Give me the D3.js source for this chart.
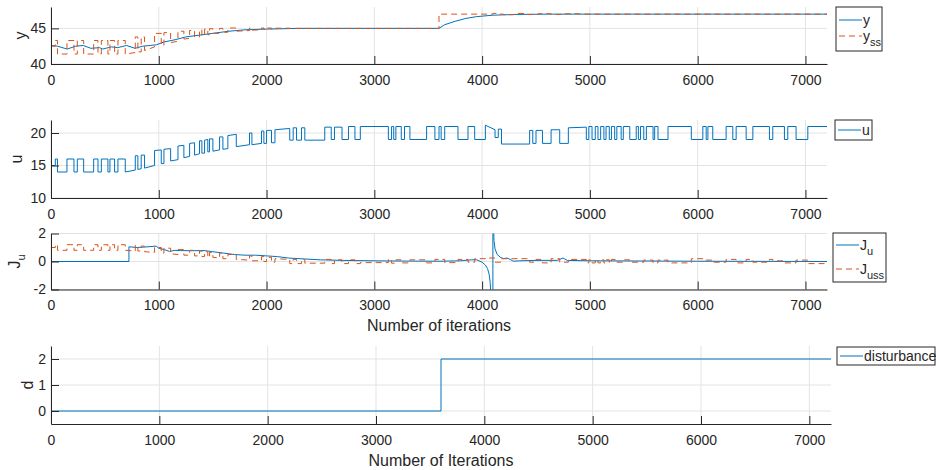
<!DOCTYPE html>
<html>
<head>
<meta charset="utf-8">
<script src="https://cdn.jsdelivr.net/npm/d3@7"></script>
<style>
  body { margin: 0; background: #fff; }
  text { font-family: "Liberation Sans", Arial, sans-serif; fill: #262626; }
</style>
</head>
<body>
<div id="chart"></div>
<script>
// ---- data ----
const xTicks = [0, 1000, 2000, 3000, 4000, 5000, 6000, 7000];

// y (output) – polyline
const yPoints = [[0,42.6],[60,42.5],[150,42.1],[230,42.5],[300,42.6],[370,42.2],[450,42.3],[480,42.1],[560,42.4],[620,42.3],[700,42.6],[780,42.2],[850,42.5],[920,42.6],[980,42.7],[1050,43.1],[1150,43.4],[1250,43.8],[1400,44.1],[1500,44.3],[1650,44.6],[1800,44.8],[2000,44.9],[2300,45],[3600,45],[3650,45.5],[3750,46.0],[3850,46.4],[3950,46.65],[4100,46.85],[4300,46.95],[4600,47],[7200,47]];

// y_ss – segments [x0, x1, v0, v1]
const yssSegs = [[0,40,42.5],[40,60,43.3],[60,148,41.4],[148,213,43.3],[213,244,41.4],[244,303,43.3],[303,396,41.4],[396,436,43.3],[436,467,41.4],[467,528,43.3],[528,547,41.4],[547,590,43.3],[590,621,41.4],[621,689,43.3],[689,782,41.4,41.6],[782,806,43.8],[806,837,41.7],[837,868,43.8],[868,961,41.9,42.4],[961,1023,44.3],[1023,1048,42.6],[1048,1110,44.4],[1110,1178,43.0,43.2],[1178,1233,44.6],[1233,1286,43.5,43.6],[1286,1332,44.7],[1332,1378,43.8],[1378,1400,44.8],[1400,1425,44.0],[1425,1455,44.9],[1455,1471,44.1],[1471,1502,44.95],[1502,1564,44.3],[1564,1595,45.0],[1595,1641,44.45],[1641,1719,45.05],[1719,1842,44.6,44.7],[1842,1864,45.05],[1864,1953,44.75,44.8],[1953,1975,45.05],[1975,2000,44.85],[2000,2046,45.05],[2046,2078,44.9],[2078,2215,45.02],[2215,3600,45],[3600,4100,47],[4100,4150,47.1],[4150,4200,47],[4200,4300,46.92],[4300,4420,47.08],[4420,4520,46.95],[4520,4640,47.06],[4640,4750,46.95],[4750,4900,47.05],[4900,7200,47]];

// u (input) – segments [x0, x1, v0, v1]
const uSegs = [[0,40,15],[40,60,16],[60,148,14],[148,213,16],[213,244,14],[244,303,16],[303,396,14],[396,436,16],[436,467,14],[467,528,16],[528,547,14],[547,590,16],[590,621,14],[621,689,16],[689,782,14,14.3],[782,806,16.5],[806,837,14.4,14.5],[837,868,16.6],[868,961,14.6,15.0],[961,1023,17.3,17.4],[1023,1048,15.3],[1048,1110,17.5,17.6],[1110,1178,15.7,15.9],[1178,1233,18.0,18.1],[1233,1286,16.2,16.4],[1286,1332,18.4,18.5],[1332,1378,16.6,16.8],[1378,1400,18.8],[1400,1425,16.9],[1425,1455,18.9,19.0],[1455,1471,17.1],[1471,1502,19.1],[1502,1564,17.2,17.4],[1564,1595,19.4],[1595,1641,17.5,17.6],[1641,1719,19.6,19.8],[1719,1842,17.9,18.2],[1842,1864,20.0],[1864,1953,18.2,18.4],[1953,1975,20.3],[1975,2000,18.4],[2000,2046,20.4],[2046,2078,18.5],[2078,2215,20.5,20.7],[2215,2247,18.9],[2247,2278,20.8],[2278,2324,18.9],[2324,2355,20.8],[2355,2540,18.9],[2540,2600,20.9],[2600,2630,19],[2630,2700,20.9],[2700,2760,19],[2760,2820,21],[2820,2870,19],[2870,3130,21],[3130,3160,19],[3160,3180,21],[3180,3200,19],[3200,3250,21],[3250,3280,19],[3280,3330,21],[3330,3485,19],[3485,3562,21],[3562,3600,19],[3600,3620,21],[3620,3653,19],[3653,3776,21],[3776,3869,19],[3869,3931,21],[3931,4030,19],[4030,4120,21.2,20.5],[4120,4150,19.3],[4150,4180,20.6],[4180,4441,18.3],[4441,4470,20.4],[4470,4500,18.4],[4500,4560,20.4],[4560,4640,18.4],[4640,4720,20.5],[4720,4800,18.4],[4800,4967,20.8,20.9],[4967,4990,19],[4990,5020,21],[5020,5050,19],[5050,5075,21],[5075,5100,19],[5100,5130,21],[5130,5150,19],[5150,5180,21],[5180,5200,19],[5200,5230,21],[5230,5250,19],[5250,5290,21],[5290,5310,19],[5310,5370,21],[5370,5430,19],[5430,5450,21],[5450,5470,19],[5470,5500,21],[5500,5524,19],[5524,5586,21],[5586,5601,19],[5601,5632,21],[5632,5725,19],[5725,5941,21],[5941,6048,19],[6048,6079,21],[6079,6095,19],[6095,6140,21],[6140,6264,19],[6264,6326,21],[6326,6357,19],[6357,6450,21],[6450,6512,19],[6512,6666,21],[6666,6697,19],[6697,6805,21],[6805,6836,19],[6836,6913,21],[6913,7022,19],[7022,7200,21]];

// J_u (gradient estimate) – polyline
const juPoints = [[0,0],[723,0],[723,1.05],[800,1.0],[900,1.05],[975,1.1],[1000,0.95],[1050,0.85],[1100,0.72],[1150,0.8],[1200,0.78],[1300,0.77],[1420,0.78],[1500,0.7],[1600,0.6],[1700,0.5],[1800,0.45],[1900,0.45],[2000,0.4],[2100,0.35],[2200,0.25],[2350,0.18],[2500,0.12],[2700,0.08],[3000,0.05],[3300,0.03],[3600,0.02],[3800,0.05],[3900,0.12],[3950,0.12],[4000,-0.05],[4030,-0.25],[4050,-0.5],[4065,-0.9],[4075,-1.5],[4085,-3],[4100,-3],[4100,3],[4105,3],[4110,1.5],[4120,0.9],[4140,0.5],[4170,0.3],[4200,0.2],[4230,0.25],[4260,0.15],[4290,0.02],[4350,0.05],[4500,0.08],[4700,0.08],[4750,0.25],[4790,0.08],[5000,0.05],[6000,0.02],[7200,0.0]];

// J_uss – segments [x0, x1, v0, v1]
const jussSegs = [[0,40,1.0],[40,60,1.2],[60,148,0.8],[148,213,1.2],[213,244,0.8],[244,303,1.2],[303,396,0.8],[396,436,1.2],[436,467,0.8],[467,528,1.2],[528,547,0.8],[547,590,1.2],[590,621,0.8],[621,689,1.2],[689,782,0.8,0.75],[782,806,1.15],[806,837,0.75],[837,868,1.1],[868,961,0.7,0.65],[961,1023,1.0],[1023,1048,0.6],[1048,1110,0.95],[1110,1178,0.55,0.5],[1178,1233,0.85],[1233,1286,0.45],[1286,1332,0.8],[1332,1378,0.4],[1378,1400,0.75],[1400,1425,0.35],[1425,1455,0.7],[1455,1471,0.3],[1471,1502,0.65],[1502,1564,0.3,0.25],[1564,1595,0.6],[1595,1641,0.2],[1641,1719,0.5],[1719,1842,0.15,0.1],[1842,1864,0.4],[1864,1953,0.05],[1953,1975,0.35],[1975,2000,0.0],[2000,2046,0.3],[2046,2078,-0.05],[2078,2215,0.2,0.15],[2215,2247,-0.15],[2247,2278,0.15],[2278,2324,-0.15],[2324,2355,0.15],[2355,2540,-0.12],[2540,2600,0.15],[2600,2630,-0.15],[2630,2700,0.12],[2700,2760,-0.15],[2760,2820,0.12],[2820,2870,-0.15],[2870,3130,-0.08],[3130,3160,0.15],[3160,3200,-0.12],[3200,3250,0.12],[3250,3330,-0.1],[3330,3485,0.12],[3485,3562,-0.1],[3562,3653,0.15],[3653,3776,-0.08],[3776,3869,0.15],[3869,3931,-0.05],[3931,4030,0.2],[4030,4120,0.25],[4120,4180,-0.05],[4180,4441,0.2],[4441,4500,-0.05],[4500,4560,0.15],[4560,4640,-0.1],[4640,4720,0.2],[4720,4800,-0.05],[4800,4967,0.15],[4967,4990,-0.1],[4990,5020,0.12],[5020,5050,-0.1],[5050,5075,0.12],[5075,5100,-0.1],[5100,5130,0.12],[5130,5150,-0.1],[5150,5180,0.12],[5180,5200,-0.1],[5200,5250,0.15],[5250,5310,-0.05],[5310,5370,0.12],[5370,5500,-0.05],[5500,5586,0.1],[5586,5632,-0.1],[5632,5725,0.1],[5725,5941,-0.1],[5941,6048,0.2],[6048,6140,0.1],[6140,6264,-0.05],[6264,6357,0.15],[6357,6450,-0.1],[6450,6512,0.15],[6512,6666,-0.05],[6666,6697,0.15],[6697,6805,0.05],[6805,6913,-0.1],[6913,7022,0.1],[7022,7200,-0.15]];

// disturbance – polyline
const dPoints = [[0,0],[3600,0],[3600,2],[7200,2]];

// ---- drawing ----
const blue = "#0072BD", orange = "#D95319", axisColor = "#262626", gridColor = "#e3e3e3";
const segsToPoints = segs => segs.flatMap(s => [[s[0], s[2]], [s[1], s[3] ?? s[2]]]);
const fmt = d => String(d);

const svg = d3.select("#chart").append("svg")
  .attr("width", 936).attr("height", 470);

function drawPanel(p, idx) {
  const x = d3.scaleLinear().domain([0, 7200]).range([p.left, p.right]);
  const y = d3.scaleLinear().domain(p.yDomain).range([p.bottom, p.top]);
  const g = svg.append("g");

  // grid
  g.selectAll(".vgrid").data(xTicks).enter().append("line")
    .attr("x1", d => x(d)).attr("x2", d => x(d))
    .attr("y1", p.top).attr("y2", p.bottom)
    .attr("stroke", gridColor).attr("stroke-width", 1);
  g.selectAll(".hgrid").data(p.yTicks).enter().append("line")
    .attr("x1", p.left).attr("x2", p.right)
    .attr("y1", d => y(d)).attr("y2", d => y(d))
    .attr("stroke", gridColor).attr("stroke-width", 1);

  const clipId = "clip" + idx;
  svg.append("clipPath").attr("id", clipId).append("rect")
    .attr("x", p.left).attr("y", p.top)
    .attr("width", p.right - p.left).attr("height", p.bottom - p.top);

  const line = d3.line().x(d => x(d[0])).y(d => y(d[1]));
  p.series.forEach(s => {
    g.append("path")
      .datum(s.points)
      .attr("clip-path", `url(#${clipId})`)
      .attr("fill", "none")
      .attr("stroke", s.color)
      .attr("stroke-width", 1)
      .attr("stroke-dasharray", s.dash ? "6,4" : null)
      .attr("d", line);
  });

  // axes
  const xAxis = g.append("g")
    .attr("transform", `translate(0,${p.bottom})`)
    .call(d3.axisBottom(x).tickValues(xTicks).tickFormat(fmt)
      .tickSizeInner(-8).tickSizeOuter(0).tickPadding(11));
  const yAxis = g.append("g")
    .attr("transform", `translate(${p.left},0)`)
    .call(d3.axisLeft(y).tickValues(p.yTicks).tickFormat(fmt)
      .tickSizeInner(-8).tickSizeOuter(0).tickPadding(5));
  [xAxis, yAxis].forEach(a => {
    a.select(".domain").attr("stroke", axisColor);
    a.selectAll(".tick line").attr("stroke", axisColor);
    a.selectAll(".tick text")
      .attr("fill", axisColor)
      .style("font-size", "14px")
      .style("font-family", '"Liberation Sans", Arial, sans-serif');
  });

  // y label
  const yl = svg.append("text")
    .attr("transform", `translate(${p.ylabelX},${(p.top + p.bottom) / 2}) rotate(-90)`)
    .attr("text-anchor", "middle")
    .style("font-size", "16px")
    .text(p.ylabel);
  if (p.ylabelSub) yl.append("tspan").attr("dy", 5).style("font-size", "11px").text(p.ylabelSub);

  if (p.xlabel) {
    svg.append("text")
      .attr("x", (p.left + p.right) / 2).attr("y", p.xlabelY)
      .attr("text-anchor", "middle")
      .style("font-size", "16px")
      .text(p.xlabel);
  }

  // legend
  const L = p.legend;
  svg.append("rect")
    .attr("x", L.x).attr("y", L.y).attr("width", L.w).attr("height", L.h)
    .attr("fill", "#fff").attr("stroke", axisColor).attr("stroke-width", 1);
  p.series.forEach((s, i) => {
    const ly = L.y + L.rows[i];
    svg.append("line")
      .attr("x1", L.x + 3).attr("x2", L.x + 26)
      .attr("y1", ly).attr("y2", ly)
      .attr("stroke", s.color).attr("stroke-width", 1)
      .attr("stroke-dasharray", s.dash ? "6,4" : null);
    const t = svg.append("text")
      .attr("x", L.x + 27).attr("y", ly + 5)
      .style("font-size", "14px")
      .text(s.label);
    if (s.sub) t.append("tspan").attr("dy", 5).style("font-size", "11px").text(s.sub);
  });
}

const panels = [
  {
    left: 51, right: 827, top: 7, bottom: 64, yDomain: [40, 48], yTicks: [40, 45],
    ylabel: "y", ylabelX: 26,
    series: [
      { points: yPoints, color: blue, label: "y" },
      { points: segsToPoints(yssSegs), color: orange, dash: true, label: "y", sub: "ss" }
    ],
    legend: { x: 836, y: 7, w: 46, h: 44, rows: [13, 29] }
  },
  {
    left: 51, right: 827, top: 120, bottom: 198, yDomain: [10, 22], yTicks: [10, 15, 20],
    ylabel: "u", ylabelX: 22,
    series: [{ points: segsToPoints(uSegs), color: blue, label: "u" }],
    legend: { x: 835, y: 120, w: 37, h: 20, rows: [10] }
  },
  {
    left: 51, right: 827, top: 233.5, bottom: 289.5, yDomain: [-2, 2], yTicks: [-2, 0, 2],
    ylabel: "J", ylabelSub: "u", ylabelX: 20,
    xlabel: "Number of iterations", xlabelY: 331,
    series: [
      { points: juPoints, color: blue, label: "J", sub: "u" },
      { points: segsToPoints(jussSegs), color: orange, dash: true, label: "J", sub: "uss" }
    ],
    legend: { x: 833, y: 233, w: 53, h: 49, rows: [12, 36] }
  },
  {
    left: 51, right: 831, top: 346, bottom: 424, yDomain: [-0.5, 2.5], yTicks: [0, 1, 2],
    ylabel: "d", ylabelX: 33,
    xlabel: "Number of Iterations", xlabelY: 466,
    series: [{ points: dPoints, color: blue, label: "disturbance" }],
    legend: { x: 837, y: 347, w: 98, h: 18, rows: [9] }
  }
];

panels.forEach(drawPanel);
</script>
</body>
</html>
